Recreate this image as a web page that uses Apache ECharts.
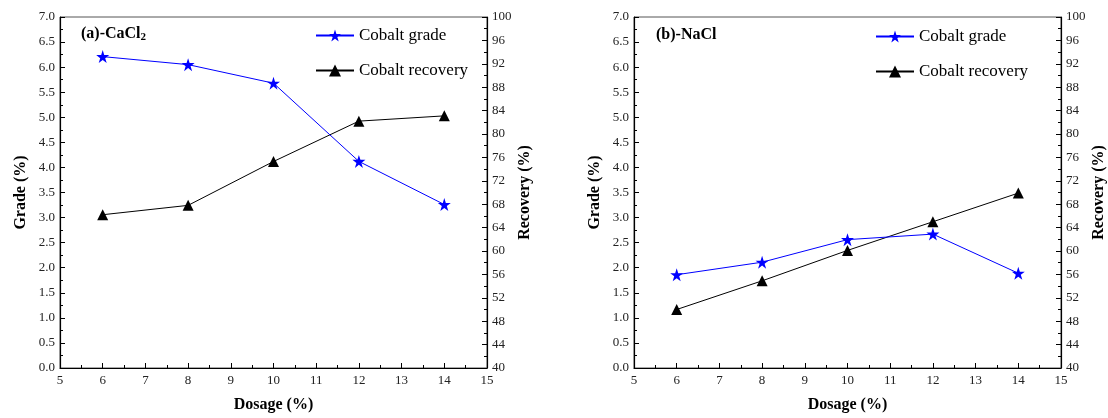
<!DOCTYPE html>
<html>
<head>
<meta charset="utf-8">
<script src="https://cdn.jsdelivr.net/npm/echarts@6/dist/echarts.min.js"></script>
<style>html,body{margin:0;padding:0;background:#fff;}#c{width:1108px;height:418px;}</style>
</head>
<body>
<div id="c"></div>
<script>
// Data
const dosage = [6, 8, 10, 12, 14];
const gradeCaCl2 = [6.21, 6.05, 5.68, 4.12, 3.26];
const recoveryCaCl2 = [66.2, 67.8, 75.3, 82.2, 83.1];
const gradeNaCl = [1.86, 2.11, 2.56, 2.67, 1.89];
const recoveryNaCl = [50.0, 54.9, 60.1, 65.0, 69.9];
const panelTitles = ['{t|(a)-CaCl}{s|2}', '{t|(b)-NaCl}'];
const seriesNames = ['Cobalt grade', 'Cobalt recovery'];

const FONT = '"Liberation Serif", "Times New Roman", serif';
const STAR = 'path://M50,0 L61.2,34.5 L97.6,34.5 L68.2,55.9 L79.4,90.5 L50,69.1 L20.6,90.5 L31.8,55.9 L2.4,34.5 L38.8,34.5 Z';
const pairs = (xs, ys) => xs.map((x, i) => [x, ys[i]]);

const chart = echarts.init(document.getElementById('c'), null, {renderer: 'canvas'});

const gridLefts = [60, 634];
const grids = gridLefts.map(l => ({left: l, top: 17, width: 427, height: 354, show: true, borderColor: '#555', borderWidth: 1, backgroundColor: 'transparent'}));

const tickLabel = {fontFamily: FONT, fontSize: 13, color: '#222'};
const nameStyle = {fontFamily: FONT, fontSize: 16, fontWeight: 'bold', color: '#000'};

const xAxes = [0, 1].map(g => ({
  type: 'value', gridIndex: g, min: 5, max: 15, interval: 1,
  name: 'Dosage (%)', nameLocation: 'middle', nameGap: 29, nameTextStyle: nameStyle,
  axisLine: {show: true, lineStyle: {color: '#000', width: 1.2}},
  axisTick: {show: true, inside: true, length: 5, lineStyle: {color: '#000'}},
  minorTick: {show: true, splitNumber: 2, length: 3, lineStyle: {color: '#000'}},
  axisLabel: Object.assign({margin: 6}, tickLabel),
  splitLine: {show: false}
}));

const yAxes = [];
[0, 1].forEach(g => {
  yAxes.push({
    type: 'value', gridIndex: g, position: 'left', min: 0, max: 7, interval: 0.5,
    name: 'Grade (%)', nameLocation: 'middle', nameRotate: 90, nameGap: 31, nameTextStyle: nameStyle,
    axisLine: {show: true, lineStyle: {color: '#000', width: 1.2}},
    axisTick: {show: true, inside: true, length: 5, lineStyle: {color: '#000'}},
    minorTick: {show: true, splitNumber: 2, length: 3, lineStyle: {color: '#000'}},
    axisLabel: Object.assign({margin: 5, formatter: v => v.toFixed(1)}, tickLabel),
    splitLine: {show: false}
  });
  yAxes.push({
    type: 'value', gridIndex: g, position: 'right', min: 40, max: 100, interval: 4,
    name: 'Recovery (%)', nameLocation: 'middle', nameRotate: 90, nameGap: 30, nameTextStyle: nameStyle,
    axisLine: {show: true, lineStyle: {color: '#000', width: 1.2}},
    axisTick: {show: true, inside: true, length: 5, lineStyle: {color: '#000'}},
    minorTick: {show: true, splitNumber: 2, length: 3, lineStyle: {color: '#000'}},
    axisLabel: Object.assign({margin: 5}, tickLabel),
    splitLine: {show: false}
  });
});

const grades = [gradeCaCl2, gradeNaCl];
const recs = [recoveryCaCl2, recoveryNaCl];
const series = [];
[0, 1].forEach(g => {
  series.push({
    name: seriesNames[0], type: 'line', xAxisIndex: g, yAxisIndex: g * 2,
    data: pairs(dosage, grades[g]), symbol: STAR, symbolSize: 13,
    lineStyle: {color: '#0000ff', width: 1}, itemStyle: {color: '#0000ff'}, z: 3
  });
  series.push({
    name: seriesNames[1], type: 'line', xAxisIndex: g, yAxisIndex: g * 2 + 1,
    data: pairs(dosage, recs[g]), symbol: 'triangle', symbolSize: 11,
    lineStyle: {color: '#000', width: 1}, itemStyle: {color: '#000'}, z: 2
  });
});

const legends = [
  {left: 315, top: 27},
  {left: 875, top: 28}
].map(p => ({
  left: p.left, top: p.top, padding: 0, orient: 'vertical', itemGap: 18, itemWidth: 38, itemHeight: 15,
  data: seriesNames, textStyle: {fontFamily: FONT, fontSize: 17, color: '#000'},
  selectedMode: false
}));

const titles = [
  {left: 81, top: 24},
  {left: 656, top: 27}
].map((p, i) => ({
  left: p.left, top: p.top, padding: 0, text: panelTitles[i],
  textStyle: {
    rich: {
      t: {fontFamily: FONT, fontSize: 16, fontWeight: 'bold', color: '#000'},
      s: {fontFamily: FONT, fontSize: 11, fontWeight: 'bold', color: '#000', verticalAlign: 'bottom', padding: [8, 0, 0, 0]}
    }
  }
}));

chart.setOption({
  backgroundColor: '#fff',
  animation: false,
  title: titles,
  legend: legends,
  grid: grids,
  xAxis: xAxes,
  yAxis: yAxes,
  series: series
});
</script>
</body>
</html>
